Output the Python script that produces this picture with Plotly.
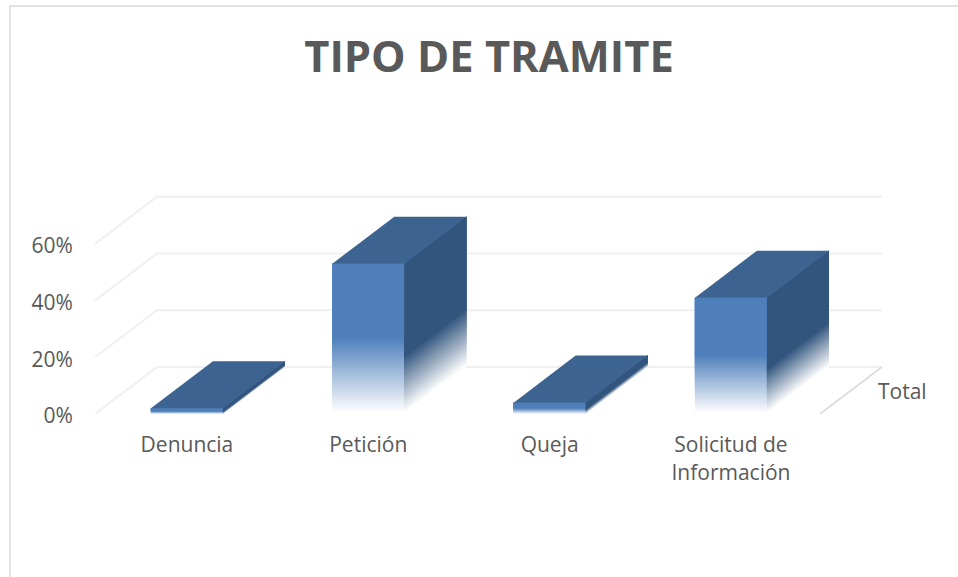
import plotly.graph_objects as go

# Data
categories = ["Denuncia", "Petición", "Queja", "Solicitud de<br>Información"]
values = [0.02, 0.53, 0.04, 0.41]
y_ticks = [0, 0.2, 0.4, 0.6]
y_labels = ["0%", "20%", "40%", "60%"]
title = "TIPO DE TRAMITE"
series_name = "Total"

# Style
FONT = "Open Sans"
TXT = "#595959"
FRONT = (78, 127, 187)
SIDE = (50, 85, 126)
TOP = "#3D6390"
GRID = "#f0f0f0"
WHITE = (255, 255, 255)
BAR_W = 0.397
DX, DY = 0.342, 0.166   # oblique depth in axis units
XMIN, XMAX = -0.507, 3.833
YMIN, YMAX = 0.0, 0.79
FADE = 0.5
SIDE_FADE = 0.38
STEPS = 28


def mix(c, t):
    return "rgb(%d,%d,%d)" % tuple(round(w + (a - w) * t) for a, w in zip(c, WHITE))


def poly(fig, xs, ys, color):
    fig.add_trace(go.Scatter(x=xs + xs[:1], y=ys + ys[:1], mode="lines", fill="toself",
                             fillcolor=color, line=dict(width=0), hoverinfo="skip",
                             showlegend=False))


fig = go.Figure()

# Oblique gridlines
for t in y_ticks:
    fig.add_trace(go.Scatter(x=[XMIN, XMIN + DX, XMAX], y=[t, t + DY, t + DY], mode="lines",
                             line=dict(color=GRID, width=2), hoverinfo="skip", showlegend=False))
# Depth axis line
fig.add_trace(go.Scatter(x=[XMAX - DX, XMAX], y=[0, DY], mode="lines",
                         line=dict(color="#d9d9d9", width=1.6), hoverinfo="skip", showlegend=False))

# Oblique bars
for i, v in enumerate(values):
    x0, x1 = i - BAR_W / 2, i + BAR_W / 2
    for k in range(STEPS + 1):
        f = k / STEPS
        y = v * FADE * f
        ys = v * SIDE_FADE * f
        poly(fig, [x0, x1, x1, x0], [y, y, v, v], mix(FRONT, f))
        poly(fig, [x1, x1 + DX, x1 + DX, x1], [ys, ys + DY, v + DY, v], mix(SIDE, f))
    poly(fig, [x0, x1, x1 + DX, x0 + DX], [v, v, v + DY, v + DY], TOP)

fig.add_annotation(x=XMAX, y=DY * 0.49, text=series_name, showarrow=False, xanchor="left",
                   xshift=-6, font=dict(family=FONT, size=21, color=TXT))

# Outer frame of the captured chart
fw = 787
fh = 224
for sx0, sy0, sx1, sy1 in [(-85 / fw, 184 / fh + 1, 1 + 76 / fw, 184 / fh + 1),
                           (-85 / fw, 184 / fh + 1, -85 / fw, -163 / fh)]:
    fig.add_shape(type="line", xref="paper", yref="paper", x0=sx0, y0=sy0, x1=sx1, y1=sy1,
                  line=dict(color="#d9d9d9", width=1.5))

fig.update_layout(
    width=958, height=577, autosize=False,
    paper_bgcolor="white", plot_bgcolor="white",
    margin=dict(l=95, r=76, t=190, b=163),
    showlegend=False,
    title=dict(text="<b>%s</b>" % title, x=489 / 958, xanchor="center", y=1 - 57 / 577,
               yanchor="middle", font=dict(family=FONT, size=43.5, color=TXT)),
    xaxis=dict(range=[XMIN, XMAX], tickmode="array", tickvals=list(range(len(categories))),
               ticktext=categories, showgrid=False, zeroline=False, showline=False,
               ticks="outside", ticklen=12, tickcolor="rgba(0,0,0,0)",
               tickfont=dict(family=FONT, size=21, color=TXT)),
    yaxis=dict(range=[YMIN, YMAX], tickmode="array", tickvals=y_ticks, ticktext=y_labels,
               showgrid=False, zeroline=False, showline=False,
               ticks="outside", ticklen=17, tickcolor="rgba(0,0,0,0)", ticklabelshift=2,
               tickfont=dict(family=FONT, size=21, color=TXT)),
)

fig.write_html("out.html", config={"displayModeBar": False},
               post_script="document.body.style.margin='0';document.documentElement.style.overflow='hidden';")
